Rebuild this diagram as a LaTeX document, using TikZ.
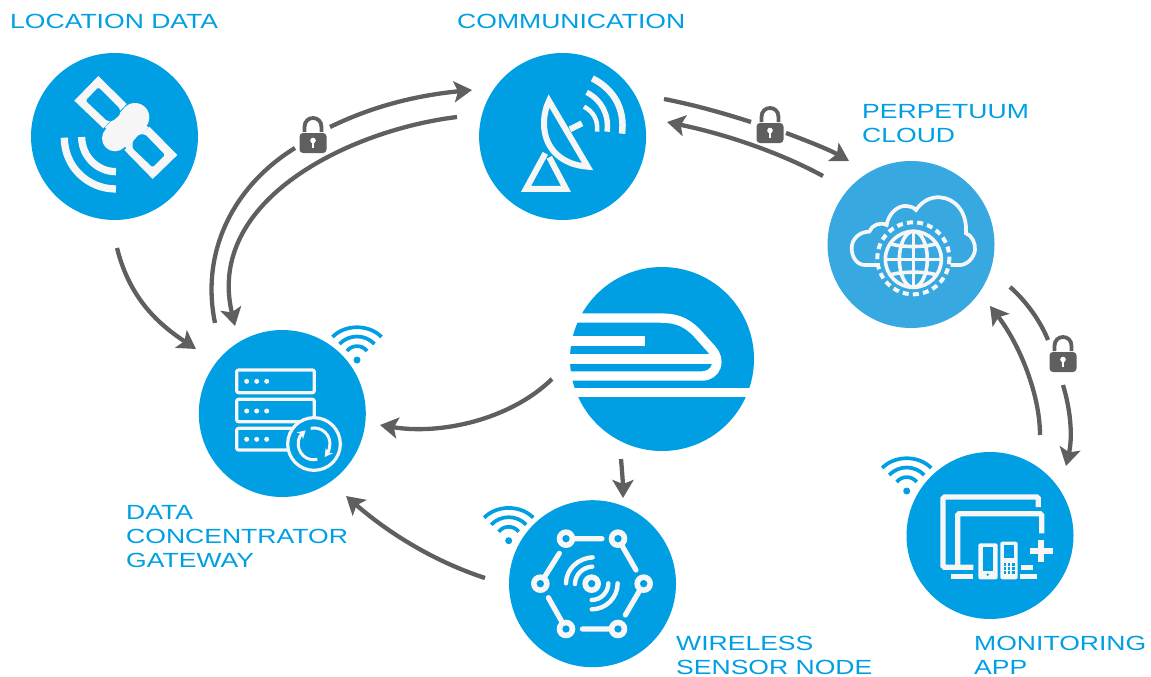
\documentclass[tikz,border=0pt]{standalone}
\usepackage{fontspec}
\setmainfont[FakeStretch=1.295]{Liberation Sans}
\usetikzlibrary{arrows.meta}
\definecolor{hubblue}{HTML}{009FE3}
\definecolor{cloudblue}{HTML}{38A8E0}
\definecolor{ink}{HTML}{5F5F5F}
\definecolor{iconwhite}{HTML}{F6F6F6}
\tikzset{
  hub/.style={circle,fill=hubblue,inner sep=0pt,minimum size=#1},
  hub/.default=167pt,
  caption/.style={text=hubblue,inner sep=0pt,anchor=base west,align=left,font=\fontsize{20.5}{24}\selectfont},
  zoomed/.style 2 args={shift={(#1pt,-#2pt)},x=.33333pt,y=-.33333pt},
  link/.style={draw=ink,line width=4.3pt},
  flow/.style={link,-{Stealth[length=18pt,width=21pt,inset=4pt]}},
  keylock/.style={inner sep=0pt,minimum width=27pt,minimum height=35pt},
  lockicon/.pic={
    \draw[ink,line width=3.8pt] (-8.5,-3) -- (-8.5,-8) .. controls (-8.5,-20) and (8.5,-20) .. (8.5,-8) -- (8.5,-3);
    \fill[ink,rounded corners=3.5pt] (-13.5,-2) rectangle (13.5,18);
    \fill[white] (0,5.5) circle (2.8);
    \fill[white] (-1.3,5.5) rectangle (1.3,13);
  },
  wifiicon/.pic={
    \fill[hubblue] (0,0) circle (3.5);
    \draw[hubblue,line width=3.7pt]
      (-10,-9) .. controls (-5,-15.5) and (5,-15.5) .. (10,-9)
      (-17.5,-16) .. controls (-8,-26) and (8,-26) .. (17.5,-16)
      (-24.5,-23) .. controls (-12,-36) and (12,-36) .. (24.5,-23);
  },
}
\begin{document}
\begin{tikzpicture}[x=1pt,y=-1pt]
\useasboundingbox (0,0) rectangle (1151,677);
% hubs
\node[hub] (location) at (114.5,136.5) {};
\node[hub] (comm) at (562.6,136.5) {};
\node[hub,fill=cloudblue] (cloud) at (911,244.5) {};
\node[hub] (gateway) at (282.3,413.5) {};
\node[hub=184pt] (train) at (662,359) {};
\node[hub] (sensor) at (592.5,583.7) {};
\node[hub] (app) at (990,535.5) {};
% captions
\node[caption] (capA) at (10,29) {LOCATION DATA};
\node[caption] (capB) at (457,29) {COMMUNICATION};
\node[caption] (capC) at (862,142) {PERPETUUM\\CLOUD};
\node[caption] (capD) at (126,567) {DATA\\CONCENTRATOR\\GATEWAY};
\node[caption] (capE) at (676,674) {WIRELESS\\SENSOR NODE};
\node[caption] (capF) at (974,674) {MONITORING\\APP};
% satellite
\begin{scope}[zoomed={20}{40}]
  \fill[iconwhite] (235,108) -- (320,192) -- (250,265) -- (163,182) -- cycle;
  \fill[iconwhite] (388,260) -- (472,345) -- (398,417) -- (313,330) -- cycle;
  \fill[iconwhite] (345,232) circle (43) (285,295) circle (39);
  \fill[iconwhite] (318,200) -- (385,262) -- (320,325) -- (255,262) -- cycle;
  \fill[hubblue,rounded corners=1.5pt] (235,142) -- (300,207) -- (300,224) -- (278,243) -- (262,243) -- (197,182) -- cycle;
  \fill[hubblue,rounded corners=1.5pt] (435,345) -- (398,382) -- (338,325) -- (338,305) -- (358,283) -- (375,283) -- cycle;
  \draw[iconwhite,line width=7.3pt] (133,293) .. controls (133,379) and (202,447) .. (288,447);
  \draw[iconwhite,line width=7.3pt] (185,291) .. controls (185,348) and (231,395) .. (288,395);
\end{scope}
% dish
\begin{scope}[zoomed={470}{40}]
  \draw[iconwhite,line width=6pt,line join=miter] (237,183) -- (353,380) .. controls (280,375) and (222,330) .. (222,250) .. controls (222,225) and (228,200) .. (237,183) -- cycle;
  \draw[iconwhite,line width=6pt,line join=miter] (226,340) -- (168,447) -- (288,447) -- (238,352);
  \draw[iconwhite,line width=6pt] (300,268) -- (336,250);
  \draw[iconwhite,line width=6.5pt] (367,115) .. controls (435,150) and (465,210) .. (456,281);
  \draw[iconwhite,line width=5.5pt] (350,157) .. controls (395,180) and (418,225) .. (411,275);
  \draw[iconwhite,line width=4.5pt] (342,200) .. controls (370,215) and (385,240) .. (381,275);
\end{scope}
% cloud
\begin{scope}[zoomed={820}{150}]
  \draw[iconwhite,line width=3.7pt] (178,345) -- (135,345) .. controls (110,345) and (95,320) .. (95,295) .. controls (95,265) and (120,245) .. (148,245) .. controls (155,225) and (180,215) .. (200,225) .. controls (205,190) and (235,165) .. (260,168) .. controls (270,168) and (280,172) .. (288,180) .. controls (305,155) and (330,140) .. (360,142) .. controls (405,145) and (442,185) .. (438,250) .. controls (455,255) and (467,280) .. (465,300) .. controls (462,325) and (440,345) .. (420,345) -- (392,345);
  \draw[iconwhite,line width=4pt,dash pattern=on 6pt off 4.2pt] (280,325) circle [radius=108];
  \draw[iconwhite,line width=3.6pt] (280,328) circle [radius=84];
  \draw[iconwhite,line width=3.6pt] (280,328) ellipse [x radius=42,y radius=84];
  \draw[iconwhite,line width=3.6pt] (280,244) -- (280,412);
  \draw[iconwhite,line width=3.6pt] (198,328) -- (362,328);
  \draw[iconwhite,line width=3.6pt] (212,282) .. controls (250,292) and (310,292) .. (348,282);
  \draw[iconwhite,line width=3.6pt] (212,374) .. controls (250,364) and (310,364) .. (348,374);
\end{scope}
% server rack
\begin{scope}[zoomed={190}{320}]
  \draw[iconwhite,line width=3.2pt,rounded corners=2pt] (140,150) rectangle (373,218);
  \draw[iconwhite,line width=3.2pt,rounded corners=2pt] (140,238) rectangle (373,305);
  \draw[iconwhite,line width=3.2pt,rounded corners=2pt] (340,325) -- (140,325) -- (140,390) -- (340,390);
  \foreach \yy in {184,273,358} \foreach \xx in {170,200,230} \fill[iconwhite] (\xx,\yy) circle (7.5);
  \draw[iconwhite,line width=3.2pt,fill=hubblue] (372,372) circle [radius=79];
  \draw[iconwhite,line width=3pt,-{Stealth[length=8pt,width=9pt]}] (362,325) .. controls (395,318) and (425,345) .. (419,380) .. controls (417,392) and (412,400) .. (404,411);
  \draw[iconwhite,line width=3pt,-{Stealth[length=8pt,width=9pt]}] (382,418) .. controls (350,425) and (320,400) .. (325,362) .. controls (327,352) and (332,345) .. (347,331);
\end{scope}
% train
\begin{scope}[zoomed={560}{260}]
  \draw[white,line width=9.4pt] (0,174) -- (290,174) .. controls (340,174) and (370,178) .. (410,218) -- (455,268) .. controls (485,300) and (470,348) .. (425,348) -- (0,348);
  \fill[white] (0,228) rectangle (254,258);
  \fill[white] (0,283) rectangle (460,312);
  \fill[white] (0,383) rectangle (620,412);
\end{scope}
% sensor network
\begin{scope}[zoomed={480}{495}]
  \draw[iconwhite,line width=5.2pt,line cap=round]
    (258,131) -- (366,131) (414,131) -- (468,225) (491,266) -- (436,360)
    (414,402) -- (307,402) (258,402) -- (205,308) (181,266) -- (238,175);
  \foreach \cx/\cy in {258/131,414/131,491/266,414/402,258/402,181/266,335/266} {
    \fill[iconwhite] (\cx,\cy) circle (28);
    \fill[hubblue] (\cx,\cy) circle (11);
  }
  \draw[iconwhite,line width=4.4pt,line cap=round]
    (258,265) .. controls (258,222) and (295,189) .. (338,187)
    (285,267) .. controls (285,240) and (308,216) .. (337,215)
    (413,265) .. controls (413,308) and (378,343) .. (335,343)
    (385,265) .. controls (385,292) and (362,315) .. (335,315);
\end{scope}
% devices
\begin{scope}[zoomed={875}{445}]
  \draw[iconwhite,line width=5.2pt,rounded corners=1.5pt] (490,186) -- (490,156) -- (204,156) -- (204,367) -- (295,367);
  \draw[iconwhite,line width=5.2pt,rounded corners=1.5pt] (500,265) -- (500,206) -- (248,206) -- (248,362);
  \draw[iconwhite,line width=5.2pt] (228,395) -- (295,395);
  \fill[iconwhite,rounded corners=2pt] (310,295) rectangle (368,403);
  \fill[hubblue] (323,307) rectangle (355,378);
  \fill[hubblue] (338,389) circle (4);
  \fill[iconwhite,rounded corners=2pt] (376,290) rectangle (428,403);
  \fill[hubblue] (388,300) rectangle (416,340);
  \foreach \yy in {358,370,382} \foreach \xx in {390,402,415} \fill[hubblue] (\xx-3.5,\yy-3.5) rectangle (\xx+3.5,\yy+3.5);
  \draw[iconwhite,line width=5.2pt] (465,318) -- (533,318) (498,285) -- (498,350);
  \draw[iconwhite,line width=5.2pt] (437,367) -- (473,367) (435,395) -- (487,395);
\end{scope}
% wifi badges
\pic at (357,360) {wifiicon};
\pic at (508.7,540.7) {wifiicon};
\pic at (906.7,491) {wifiicon};
% lock nodes
\node[keylock] (lockL) at (313,135) {};
\node[keylock] (lockT) at (770,125) {};
\node[keylock] (lockR) at (1063,354) {};
\pic at (lockL) {lockicon};
\pic at (lockT) {lockicon};
\pic at (lockR) {lockicon};
% connector ends
\coordinate (aS) at (117,248);
\coordinate (aE) at (196,349);
\coordinate (bS) at (215,323);
\coordinate (bM) at (295,148);
\coordinate (bN) at (330,127);
\coordinate (bE) at (472,90);
\coordinate (cS) at (457,117);
\coordinate (cE) at (235,326);
\coordinate (dS) at (664,99);
\coordinate (dM) at (751,122);
\coordinate (dN) at (786,133);
\coordinate (dE) at (849,161);
\coordinate (eS) at (823,176);
\coordinate (eE) at (667,122);
\coordinate (fS) at (1010,287);
\coordinate (fM) at (1048,340);
\coordinate (fN) at (1063,385);
\coordinate (fE) at (1066,466);
\coordinate (gS) at (1040,435);
\coordinate (gE) at (990,306);
\coordinate (hS) at (552,379);
\coordinate (hE) at (380,425);
\coordinate (iS) at (621,459);
\coordinate (iE) at (623,498);
\coordinate (jS) at (485,578);
\coordinate (jE) at (346,496);
% connectors
\draw[flow] (aS) .. controls (130,300) and (160,325) .. (aE);
\draw[link] (bS) .. controls (200,250) and (235,185) .. (bM);
\draw[flow] (bN) .. controls (375,105) and (420,95) .. (bE);
\draw[flow] (cS) .. controls (350,130) and (205,200) .. (cE);
\draw[link] (dS) .. controls (690,104) and (720,112) .. (dM);
\draw[flow] (dN) .. controls (805,140) and (830,150) .. (dE);
\draw[flow] (eS) .. controls (775,150) and (720,133) .. (eE);
\draw[link] (fS) .. controls (1025,300) and (1040,320) .. (fM);
\draw[flow] (fN) .. controls (1072,415) and (1072,440) .. (fE);
\draw[flow] (gS) .. controls (1040,395) and (1020,345) .. (gE);
\draw[flow] (hS) .. controls (510,420) and (440,435) .. (hE);
\draw[flow] (iS) .. controls (622,470) and (623,485) .. (iE);
\draw[flow] (jS) .. controls (430,560) and (385,530) .. (jE);
\end{tikzpicture}
\end{document}
